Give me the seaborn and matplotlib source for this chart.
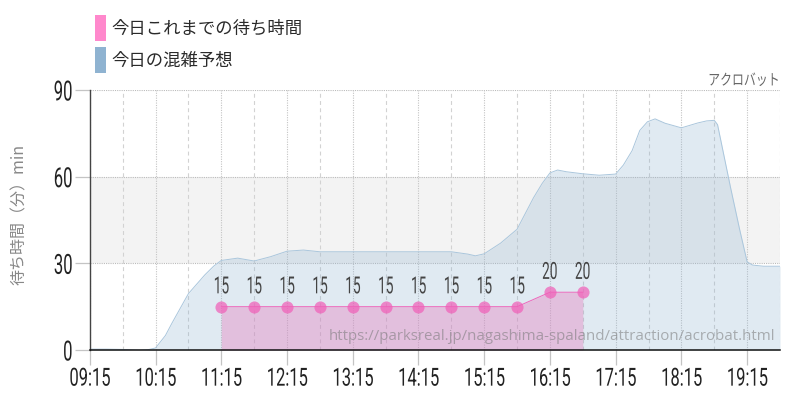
import matplotlib
matplotlib.use("Agg")
import matplotlib.pyplot as plt
import seaborn as sns
import numpy as np
import pandas as pd
from matplotlib.patches import Patch
from matplotlib.patheffects import AbstractPathEffect
from matplotlib.transforms import Affine2D

# Prognose, meist Raster 15 Minuten
forecast_times = [
    "09:15", "09:30", "09:45", "10:00", "10:08", "10:15", "10:24", "10:30", "10:45", "11:00",
    "11:08", "11:15", "11:30", "11:45", "12:00", "12:15", "12:30", "12:45", "13:00",
    "13:15", "13:30", "13:45", "14:00", "14:15", "14:30", "14:45", "15:00", "15:07",
    "15:15", "15:30", "15:45", "16:00", "16:08", "16:15", "16:22", "16:30", "16:45", "17:00",
    "17:15", "17:22", "17:30", "17:37", "17:44", "17:51", "18:00", "18:15", "18:30", "18:38",
    "18:45", "18:48", "19:00", "19:08", "19:15", "19:20", "19:30", "19:45",
]
forecast_values = [
    0.3, 0.3, 0.2, -0.1, 0.1, 0.7, 5.0, 9.3, 19.5, 26.0,
    29.0, 31.0, 31.8, 30.8, 32.3, 34.2, 34.6, 34.0, 34.0,
    34.0, 34.0, 34.0, 34.0, 34.0, 34.0, 34.0, 33.2, 32.6,
    33.3, 37.0, 41.8, 52.7, 57.7, 61.3, 62.3, 61.7, 61.0, 60.5,
    60.9, 64.0, 69.0, 76.0, 79.0, 80.0, 78.5, 76.9, 78.6, 79.3,
    79.5, 78.0, 56.0, 42.0, 30.5, 29.4, 29.0, 29.0,
]

# bisherige Wartezeiten
actual_times = [
    "11:15", "11:45", "12:15", "12:45", "13:15", "13:45",
    "14:15", "14:45", "15:15", "15:45", "16:15", "16:45",
]
actual_values = [15, 15, 15, 15, 15, 15, 15, 15, 15, 15, 20, 20]

hour_ticks = [
    "09:15", "10:15", "11:15", "12:15", "13:15", "14:15",
    "15:15", "16:15", "17:15", "18:15", "19:15",
]
half_hours = [
    "09:45", "10:45", "11:45", "12:45", "13:45", "14:45",
    "15:45", "16:45", "17:45", "18:45", "19:45",
]
y_ticks = [0, 30, 60, 90]
legend_labels = ["今日これまでの待ち時間", "今日の混雑予想"]


class Squeeze(AbstractPathEffect):
    # staucht Text horizontal, da keine Condensed-Schrift installiert ist
    def __init__(self, k, anchor="center"):
        super().__init__()
        self.k = k
        self.anchor = anchor

    def draw_path(self, renderer, gc, tpath, affine, rgbFace=None):
        ext = tpath.get_extents()
        x0 = {"center": (ext.x0 + ext.x1) / 2, "right": ext.x1, "left": ext.x0}[self.anchor]
        squeeze = Affine2D().translate(-x0, 0).scale(self.k, 1).translate(x0, 0)
        renderer.draw_path(gc, tpath, squeeze + affine, rgbFace)


def to_minutes(times):
    # Minuten seit 09:15
    t = pd.to_datetime(pd.Series(times), format="%H:%M")
    return ((t - pd.Timestamp("1900-01-01 09:15")).dt.total_seconds() / 60).to_numpy()


sns.set_theme(style="white")
cjk = ["Noto Sans CJK JP", "DejaVu Sans"]
narrow = ["Roboto", "DejaVu Sans"]
plt.rcParams["font.family"] = cjk

forecast = pd.DataFrame({"t": to_minutes(forecast_times), "v": forecast_values})
actual = pd.DataFrame({"t": to_minutes(actual_times), "v": actual_values})

fig = plt.figure(figsize=(8, 4), dpi=100)
ax = fig.add_axes([89.8 / 800, 1 - 350 / 400, 690.2 / 800, 260 / 400])

# Bereich 30-60 grau
ax.axhspan(30, 60, color="#f3f3f3", lw=0, zorder=0)

# Gitter
for y in y_ticks[1:]:
    ax.axhline(y, color="#bbbbbb", lw=0.8, ls=(0, (1, 1)), zorder=1)
for t in to_minutes(hour_ticks):
    ax.axvline(t, color="#c4c4c4", lw=0.8, ls=(0, (1, 1.2)), zorder=1)
for t in to_minutes(half_hours):
    ax.axvline(t, color="#d2d2d2", lw=0.8, ls=(0, (3.5, 3)), zorder=1)

ax.fill_between(forecast["t"], forecast["v"], color="#8fb3d1", alpha=0.27, lw=0, zorder=2)
sns.lineplot(data=forecast, x="t", y="v", ax=ax, color="#aac6dc", lw=0.7, zorder=3)

ax.fill_between(actual["t"], actual["v"], color="#e680be", alpha=0.4, lw=0, zorder=4)
sns.lineplot(data=actual, x="t", y="v", ax=ax, color="#ee66bb", lw=0.7, zorder=5)
sns.scatterplot(data=actual, x="t", y="v", ax=ax, color="#f060b8", alpha=0.72, s=76, lw=0, zorder=6, clip_on=False)

for t, v in zip(actual["t"], actual["v"]):
    ax.annotate(str(v), (t, v), xytext=(0, 6), textcoords="offset points", ha="center", va="bottom",
                fontsize=17, color="#444444", family=narrow, zorder=7,
                path_effects=[Squeeze(0.58)])

ax.set_xlim(0, 630)
ax.set_ylim(0, 90)
ax.set_xticks(to_minutes(hour_ticks))
ax.set_xticklabels(hour_ticks, family=narrow, fontsize=18, color="#222222")
ax.set_yticks(y_ticks)
ax.set_yticklabels(y_ticks, family=narrow, fontsize=20, color="#222222")
for lab in ax.get_xticklabels():
    lab.set_path_effects([Squeeze(0.66)])
for lab in ax.get_yticklabels():
    lab.set_path_effects([Squeeze(0.6, "right")])
ax.tick_params(axis="both", length=11, width=0.9, color="#c4c4c4", pad=1, bottom=True, left=True)
ax.set_xlabel("")
ax.set_ylabel("待ち時間（分）min", fontsize=11.5, color="#888888", labelpad=0)
ax.yaxis.set_label_coords(-0.09, 0.52)

for s in ["top", "right"]:
    ax.spines[s].set_visible(False)
ax.spines["left"].set_color("#444444")
ax.spines["left"].set_linewidth(1)
ax.spines["bottom"].set_color("#111111")
ax.spines["bottom"].set_linewidth(1.1)
ax.spines["left"].set_zorder(8)
ax.spines["bottom"].set_zorder(8)

ax.text(1, 1.004, "アクロバット", transform=ax.transAxes, ha="right", va="bottom", fontsize=11, color="#666666",
        path_effects=[Squeeze(0.78, "right")])
ax.text(0.993, 0.052, "https://parksreal.jp/nagashima-spaland/attraction/acrobat.html", transform=ax.transAxes,
        ha="right", va="center", fontsize=10.85, color="#777777", alpha=0.55, family="Open Sans", zorder=9)

handles = [Patch(color="#ff88cc", lw=0), Patch(color="#8fb3d1", lw=0)]
fig.legend(handles, legend_labels, loc="upper left", bbox_to_anchor=(95 / 800, 1 - 15 / 400), frameon=False,
           fontsize=12.5, handlelength=0.64, handleheight=1.93, handletextpad=0.28, labelspacing=0.34,
           borderpad=0, borderaxespad=0, labelcolor="#2a2a2a")

fig.savefig("out.png", dpi=100)
